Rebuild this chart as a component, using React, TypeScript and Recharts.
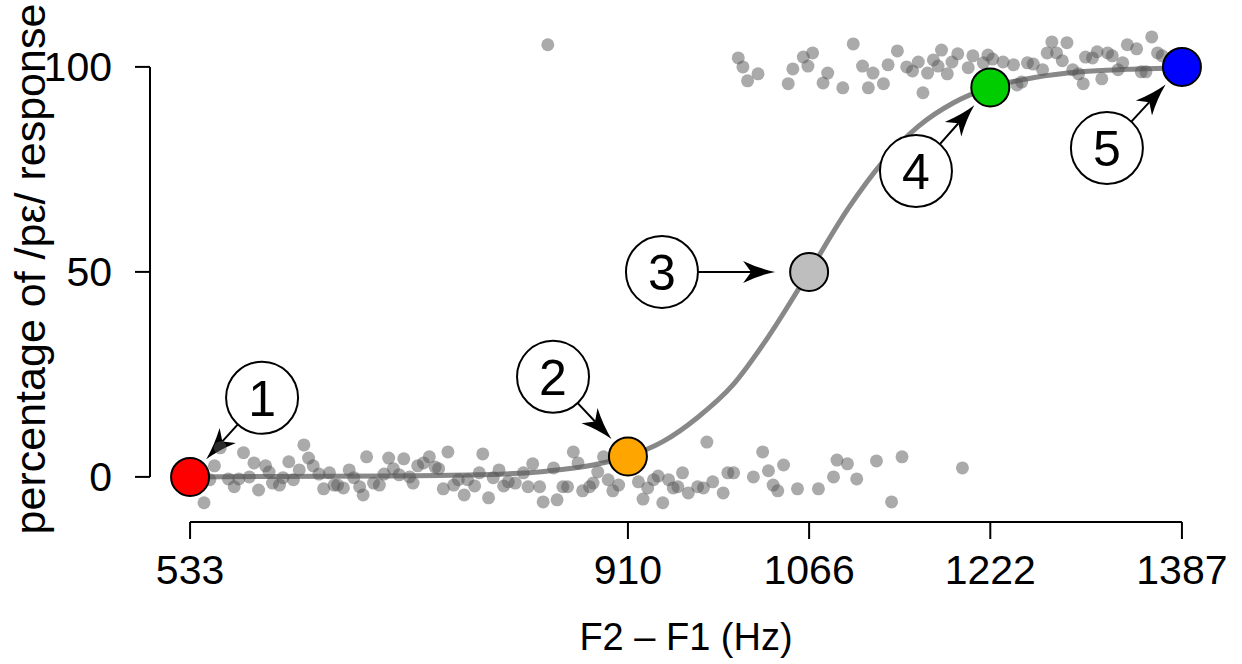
import { ComposedChart, XAxis, YAxis, Scatter, Line, ReferenceLine } from "recharts";

// individual responses (F2-F1 in Hz, % /pε/)
const responseHz = [
  545, 550, 554, 559, 566, 571, 575, 579, 584, 588, 592, 598, 601, 604, 610, 613, 618, 622, 627, 631,
  635, 639, 644, 648, 653, 657, 660, 665, 670, 674, 679, 682, 685, 691, 696, 700, 704, 708, 713, 717,
  722, 725, 729, 734, 739, 744, 747, 751, 755, 760, 764, 769, 772, 778, 782, 785, 790, 794, 799, 803,
  807, 813, 820, 824, 828, 834, 837, 846, 849, 854, 858, 863, 867, 871, 877, 880, 884, 889, 893, 897,
  902, 919, 923, 927, 932, 936, 940, 945, 949, 953, 957, 962, 970, 975, 978, 983, 992, 996, 1001, 1018,
  1026, 1031, 1035, 1039, 1044, 1056, 1074, 1087, 1090, 1099, 1107, 1124, 1137, 1146, 1198,
  841, 1005, 1009, 1013, 1022, 1048, 1052, 1061, 1065, 1069, 1078, 1082, 1095, 1104, 1112, 1117, 1121,
  1130, 1134, 1142, 1150, 1155, 1160, 1164, 1168, 1173, 1177, 1180, 1185, 1189, 1194, 1203, 1207, 1216,
  1220, 1224, 1233, 1242, 1245, 1249, 1254, 1259, 1267, 1271, 1275, 1279, 1284, 1288, 1293, 1298, 1302,
  1304, 1310, 1314, 1318, 1323, 1327, 1332, 1336, 1340, 1348, 1352, 1356, 1361, 1366, 1370,
];
const responsePct = [
  -6.3, -0.7, 2.7, 7.1, -0.5, -2.4, -0.5, 5.9, 0, 3.4, -3.2, 2.7, 1.2, -1.5, -2.0, -0.2, 3.7, -0.7, 1.7, 7.8,
  4.6, 2.7, 0.7, -2.9, 1.0, -2.0, -2.0, -2.7, 1.7, -0.2, -2.4, -4.4, 4.9, -1.5, -2.0, 0.7, 4.6, 2.0, 0.5, 4.4,
  0, -1.5, 2.7, 3.4, 4.9, 2.4, 2.0, -2.9, 6.1, -2.0, -0.7, -4.4, -0.7, -2.2, 1.0, 5.6, -5.1, -0.2, 1.7, -2.2,
  -1.2, -1.5, 1.0, -2.4, 3.2, -2.4, -6.1, 2.2, -5.6, -2.4, -2.4, 6.1, 3.4, -3.4, -2.4, -1.5, 1.2, 4.9, -0.7, -3.4,
  -2.0, -1.2, -5.4, -2.7, -0.7, 0.2, -6.3, -0.7, -2.7, -2.4, 1.0, -3.9, -2.4, -2.7, 8.5, -1.2, -3.9, 1.0, 1.0, 0,
  6.1, 1.5, -2.0, -3.4, 2.9, -2.9, -2.9, 0, 4.1, 3.2, -0.5, 3.9, -6.1, 4.9, 2.2,
  105.4, 102.2, 100, 96.6, 98.3, 95.9, 99.5, 102.4, 100.2, 103.4, 96.1, 98.5, 94.9, 105.6, 100.2, 94.9, 98.5,
  95.9, 100.5, 103.9, 100, 99, 101.2, 93.7, 98.5, 101.7, 100.2, 104.1, 98.3, 101.2, 103.2, 99.8, 102.7, 101,
  102.9, 101.9, 101.2, 100.5, 95.6, 96.3, 101, 100.7, 99.3, 103.4, 106.1, 103.4, 101.5, 105.9, 99.3, 98.3, 95.9,
  102.4, 102.2, 103.7, 97.1, 103.4, 102.7, 99.3, 101, 105.4, 104.4, 98.8, 98.8, 107.3, 103.4, 102.7,
];

// fitted curve
const curveHz = [533, 600, 700, 780, 840, 880, 910, 940, 970, 1000, 1030, 1066, 1100, 1130, 1160, 1190, 1222, 1260, 1300, 1340, 1387];
const curvePct = [0, 0.1, 0.2, 0.5, 1.4, 2.9, 5, 8.6, 14.5, 22.3, 33.8, 50, 65.6, 77, 85.5, 91.2, 95, 97.4, 98.8, 99.4, 99.8];

// the five highlighted steps and their numbered callouts
const stepHz = [533, 910, 1066, 1222, 1387];
const stepPct = [0, 5, 50, 95, 100];
const calloutHz = [595, 845.5, 939.3, 1158, 1322.4];
const calloutPct = [19.3, 24.4, 50, 74.6, 80.2];
const calloutText = ["1", "2", "3", "4", "5"];

const xTicks = [533, 910, 1066, 1222, 1387];
const yTicks = [0, 50, 100];

const X_MIN = 498.5;
const X_MAX = 1421.5;
const Y_MIN = -11;
const Y_MAX = 109;

const FONT = '"Liberation Sans", Arial, Helvetica, sans-serif';
const FS = 41;
const STEP_COLORS = ["#ff0000", "#ffa500", "#bebebe", "#00cd00", "#0000ff"];
const ARROW_GAP = [5, 5, 15, 5, 5];
const BUBBLE_R = 36;
const DOT_R = 19;

const responses = responseHz.map((x, i) => ({ x, y: responsePct[i] }));
const curve = curveHz.map((x, i) => ({ x, y: curvePct[i] }));
const steps = stepHz.map((x, i) => ({ x, y: stepPct[i], i }));
const callouts = calloutHz.map((x, i) => ({ x, y: calloutPct[i], n: calloutText[i] }));

const GreyDot = (p: any) => <circle cx={p.cx} cy={p.cy} r={6.5} fill="#555" fillOpacity={0.5} />;

const StepDot = (p: any) => (
  <circle cx={p.cx} cy={p.cy} r={DOT_R} fill={STEP_COLORS[p.payload.i]} stroke="#000" strokeWidth={2} />
);

const Bubble = (p: any) => (
  <g>
    <circle cx={p.cx} cy={p.cy} r={BUBBLE_R} fill="#fff" stroke="#000" strokeWidth={2} />
    <text x={p.cx} y={p.cy} dy="0.36em" textAnchor="middle" fontSize={50} fontFamily={FONT} fill="#000">
      {p.payload.n}
    </text>
  </g>
);

const YTitle = (p: any) => {
  const vb = p.viewBox;
  const x = vb.x + 30;
  const y = vb.y + vb.height / 2 - 7;
  return (
    <text
      x={x}
      y={y}
      dy="0.36em"
      transform={`rotate(-90, ${x}, ${y})`}
      textAnchor="middle"
      fontSize={43}
      fontFamily={FONT}
      fill="#000"
    >
      percentage of /pε/ response
    </text>
  );
};

const arrowShape = (gap: number) => (p: any) => {
  const { x1, y1, x2, y2 } = p;
  const len = Math.hypot(x2 - x1, y2 - y1);
  const ux = (x2 - x1) / len;
  const uy = (y2 - y1) / len;
  const nx = -uy;
  const ny = ux;
  const sx = x1 + ux * BUBBLE_R;
  const sy = y1 + uy * BUBBLE_R;
  const tx = x2 - ux * (DOT_R + gap);
  const ty = y2 - uy * (DOT_R + gap);
  const L = 32;
  const W = 11;
  const bx = tx - ux * L;
  const by = ty - uy * L;
  const mx = tx - ux * L * 0.75;
  const my = ty - uy * L * 0.75;
  const c1x = tx - ux * L * 0.5 + nx * W * 0.3;
  const c1y = ty - uy * L * 0.5 + ny * W * 0.3;
  const c2x = tx - ux * L * 0.5 - nx * W * 0.3;
  const c2y = ty - uy * L * 0.5 - ny * W * 0.3;
  const d = `M${tx},${ty} Q${c1x},${c1y} ${bx + nx * W},${by + ny * W} L${mx},${my} L${bx - nx * W},${by - ny * W} Q${c2x},${c2y} ${tx},${ty} Z`;
  return (
    <g>
      <line x1={sx} y1={sy} x2={mx} y2={my} stroke="#000" strokeWidth={2} />
      <path d={d} fill="#000" />
    </g>
  );
};

export default function App() {
  return (
    <div style={{ position: "absolute", left: 0, top: 0 }}>
      <ComposedChart
        width={1242}
        height={664}
        margin={{ top: 30, right: 20, left: 0, bottom: 0 }}
        style={{ fontFamily: FONT, background: "#fff" }}
      >
        <XAxis
          type="number"
          dataKey="x"
          domain={[X_MIN, X_MAX]}
          allowDataOverflow
          ticks={xTicks}
          interval={0}
          height={142}
          axisLine={false}
          stroke="#000"
          tickLine={{ stroke: "#000", strokeWidth: 2 }}
          tickSize={17}
          tickMargin={16}
          tick={{ fill: "#000", fontSize: FS, fontFamily: FONT }}
          label={{ value: "F2 – F1 (Hz)", position: "insideBottom", offset: 14, fill: "#000", fontSize: 38, fontFamily: FONT }}
        />
        <YAxis
          type="number"
          dataKey="y"
          domain={[Y_MIN, Y_MAX]}
          allowDataOverflow
          ticks={yTicks}
          interval={0}
          width={150}
          axisLine={false}
          stroke="#000"
          tickLine={{ stroke: "#000", strokeWidth: 2 }}
          tickSize={15}
          tickMargin={23}
          tick={{ fill: "#000", fontSize: FS, fontFamily: FONT }}
          label={{ content: YTitle }}
        />
        <ReferenceLine
          segment={[{ x: xTicks[0], y: Y_MIN }, { x: xTicks[xTicks.length - 1], y: Y_MIN }]}
          stroke="#000"
          strokeWidth={2}
        />
        <ReferenceLine
          segment={[{ x: X_MIN, y: yTicks[0] }, { x: X_MIN, y: yTicks[yTicks.length - 1] }]}
          stroke="#000"
          strokeWidth={2}
        />
        <Scatter data={responses} shape={GreyDot} isAnimationActive={false} />
        <Line
          data={curve}
          dataKey="y"
          type="monotone"
          stroke="#555"
          strokeOpacity={0.7}
          strokeWidth={5}
          dot={false}
          activeDot={false}
          isAnimationActive={false}
        />
        {callouts.map((c, i) => (
          <ReferenceLine
            key={i}
            segment={[{ x: c.x, y: c.y }, { x: stepHz[i], y: stepPct[i] }]}
            shape={arrowShape(ARROW_GAP[i])}
          />
        ))}
        <Scatter data={steps} shape={StepDot} isAnimationActive={false} />
        <Scatter data={callouts} shape={Bubble} isAnimationActive={false} />
      </ComposedChart>
    </div>
  );
}
